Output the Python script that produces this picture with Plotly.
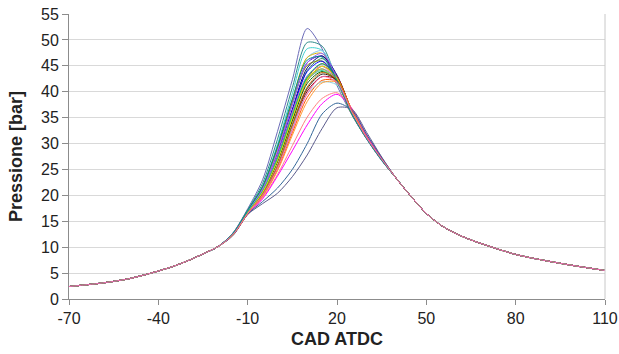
import plotly.graph_objects as go

# Crank angle grids (CAD ATDC)
cad_compression = [-70, -65, -60, -55, -50, -45, -40, -35, -30, -25, -20]
cad_combustion = [-15, -10, -5, 0, 5, 10, 15, 20, 25, 30, 35]
cad_expansion = [40, 45, 50, 55, 60, 65, 70, 80, 90, 100, 110]

# Shared compression / expansion pressures [bar]
p_compression = [2.4, 2.7, 3.0, 3.4, 3.9, 4.6, 5.4, 6.3, 7.4, 8.7, 10.1]
p_expansion = [23.2, 19.7, 16.5, 14.2, 12.6, 11.4, 10.4, 8.6, 7.4, 6.4, 5.5]

# Per-cycle pressures in the combustion window [bar]
cycle_colors = [
    "#6B6BB8", "#2E8B8B", "#40D0D0", "#80C8F0", "#D4B000", "#5A00C8", "#000080",
    "#2E8B57", "#808000", "#A0522D", "#0000FF", "#E00000", "#66CC00", "#CC66CC",
    "#006400", "#33CC99", "#222222", "#8B0000", "#FF5500", "#90D0E0", "#FF9933",
    "#FF8080", "#FF00FF", "#336699", "#5A5A8C", "#999999", "#9966FF", "#00B386",
    "#E6E600", "#CC6600", "#008B8B", "#FF66B2",
]
cycle_pressures = [
    [12.7, 17.4, 23.0, 32.3, 42.3, 52.2, 48.3, 41.2, 35.5, 30.8, 26.7],
    [12.7, 17.2, 22.3, 30.8, 40.8, 49.5, 48.8, 42.2, 35.8, 30.9, 26.8],
    [12.6, 17.1, 21.8, 29.8, 39.6, 48.3, 48.0, 42.2, 35.7, 30.9, 26.8],
    [12.6, 17.0, 21.3, 28.8, 38.2, 46.6, 47.9, 42.7, 36.0, 31.0, 26.9],
    [12.6, 17.0, 21.5, 29.0, 38.4, 46.6, 47.4, 42.3, 35.8, 30.9, 26.8],
    [12.5, 16.9, 21.2, 28.2, 37.6, 45.6, 46.9, 42.7, 36.0, 31.0, 26.9],
    [12.5, 16.8, 21.0, 27.7, 36.6, 44.6, 46.9, 43.2, 36.2, 31.1, 26.9],
    [12.5, 16.8, 20.9, 27.5, 36.1, 44.1, 46.4, 42.8, 36.0, 31.0, 26.9],
    [12.6, 17.1, 21.6, 29.2, 37.9, 45.1, 45.9, 41.8, 35.6, 30.9, 26.8],
    [12.4, 16.6, 20.5, 26.7, 35.1, 42.6, 45.4, 43.0, 36.3, 31.1, 27.0],
    [12.5, 16.9, 21.0, 27.7, 36.4, 43.9, 45.9, 42.6, 35.9, 31.0, 26.9],
    [12.4, 16.6, 20.4, 26.5, 34.6, 42.1, 44.9, 42.8, 36.3, 31.1, 27.0],
    [12.5, 16.8, 20.8, 27.2, 35.6, 42.6, 44.4, 41.8, 35.7, 30.9, 26.8],
    [12.5, 16.9, 21.1, 27.8, 36.1, 43.1, 44.9, 42.0, 35.8, 30.9, 26.8],
    [12.4, 16.6, 20.5, 26.5, 34.4, 41.6, 43.9, 42.1, 36.0, 31.0, 26.9],
    [12.5, 16.8, 20.9, 27.2, 35.4, 42.3, 44.1, 41.8, 35.8, 30.9, 26.8],
    [12.4, 16.5, 20.1, 25.7, 33.6, 40.6, 43.4, 42.3, 36.3, 31.2, 27.0],
    [12.4, 16.5, 20.0, 25.5, 33.1, 40.1, 42.9, 42.3, 36.4, 31.2, 27.0],
    [12.3, 16.4, 19.8, 25.0, 32.1, 38.9, 42.2, 42.0, 36.5, 31.3, 27.1],
    [12.4, 16.6, 20.2, 25.7, 33.1, 39.6, 41.9, 41.3, 36.0, 31.1, 27.0],
    [12.3, 16.4, 19.7, 24.7, 31.6, 38.1, 41.7, 41.8, 36.5, 31.3, 27.1],
    [12.3, 16.4, 19.5, 24.0, 29.6, 35.1, 38.7, 39.8, 36.8, 31.6, 27.2],
    [12.3, 16.4, 19.3, 23.7, 28.6, 33.6, 37.7, 39.5, 36.7, 31.6, 27.2],
    [12.3, 16.4, 18.8, 21.4, 25.0, 30.0, 35.7, 37.8, 36.4, 31.7, 27.3],
    [12.2, 16.3, 18.4, 20.4, 23.6, 27.8, 32.9, 36.9, 36.6, 32.1, 27.4],
    [12.4, 16.6, 20.6, 27.0, 35.1, 42.1, 44.4, 42.3, 36.0, 31.0, 26.9],
    [12.6, 17.0, 21.2, 28.5, 37.6, 45.6, 47.4, 42.6, 35.8, 30.9, 26.8],
    [12.5, 16.8, 20.7, 27.0, 35.3, 42.9, 45.4, 42.6, 36.0, 31.0, 26.9],
    [12.4, 16.6, 20.6, 26.7, 34.9, 42.3, 44.9, 42.6, 36.1, 31.0, 26.9],
    [12.4, 16.5, 20.2, 25.7, 33.6, 40.9, 43.7, 42.3, 36.2, 31.1, 27.0],
    [12.6, 17.1, 21.7, 29.4, 38.6, 46.1, 46.7, 42.1, 35.7, 30.9, 26.8],
    [12.4, 16.5, 20.0, 25.2, 32.6, 39.6, 42.9, 41.8, 36.1, 31.1, 27.0],
]

x_ticks = [-70, -40, -10, 20, 50, 80, 110]
y_ticks = list(range(0, 56, 5))

fig = go.Figure()
cad_all = cad_compression + cad_combustion + cad_expansion
for color, pc in zip(cycle_colors, cycle_pressures):
    fig.add_trace(go.Scatter(
        x=cad_all,
        y=p_compression + pc + p_expansion,
        mode="lines",
        line=dict(color=color, width=1, shape="spline", smoothing=0.8),
        showlegend=False,
        hoverinfo="skip",
    ))

font_family = "Liberation Sans, Arial, sans-serif"
fig.update_layout(
    width=619, height=354,
    margin=dict(l=69, r=14, t=14, b=55),
    paper_bgcolor="white", plot_bgcolor="white",
    font=dict(family=font_family, size=16, color="#222222"),
    xaxis=dict(
        range=[-70, 110], tickvals=x_ticks, ticktext=[str(v) for v in x_ticks],
        automargin=False,
        showgrid=False, zeroline=False, showline=True, linecolor="#8c8c8c",
        ticks="outside", ticklen=5, tickcolor="#8c8c8c",
        tickfont=dict(size=16, color="#222222"),
        title=dict(text="<b>CAD ATDC</b>", font=dict(size=18, color="#222222"), standoff=6),
    ),
    yaxis=dict(
        range=[0, 55], tickvals=y_ticks, automargin=False,
        showgrid=True, gridcolor="#d9d9d9", gridwidth=1,
        zeroline=False, showline=True, linecolor="#8c8c8c",
        ticks="outside", ticklen=6, tickcolor="#8c8c8c",
        tickfont=dict(size=16, color="#222222"),
        title=dict(text="<b>Pressione [bar]</b>", font=dict(size=18, color="#222222"), standoff=13),
    ),
    shapes=[dict(type="line", xref="paper", yref="paper", x0=1, x1=1, y0=0, y1=1,
                 line=dict(color="#c8c8c8", width=1))],
)

fig.write_html("out.html")
